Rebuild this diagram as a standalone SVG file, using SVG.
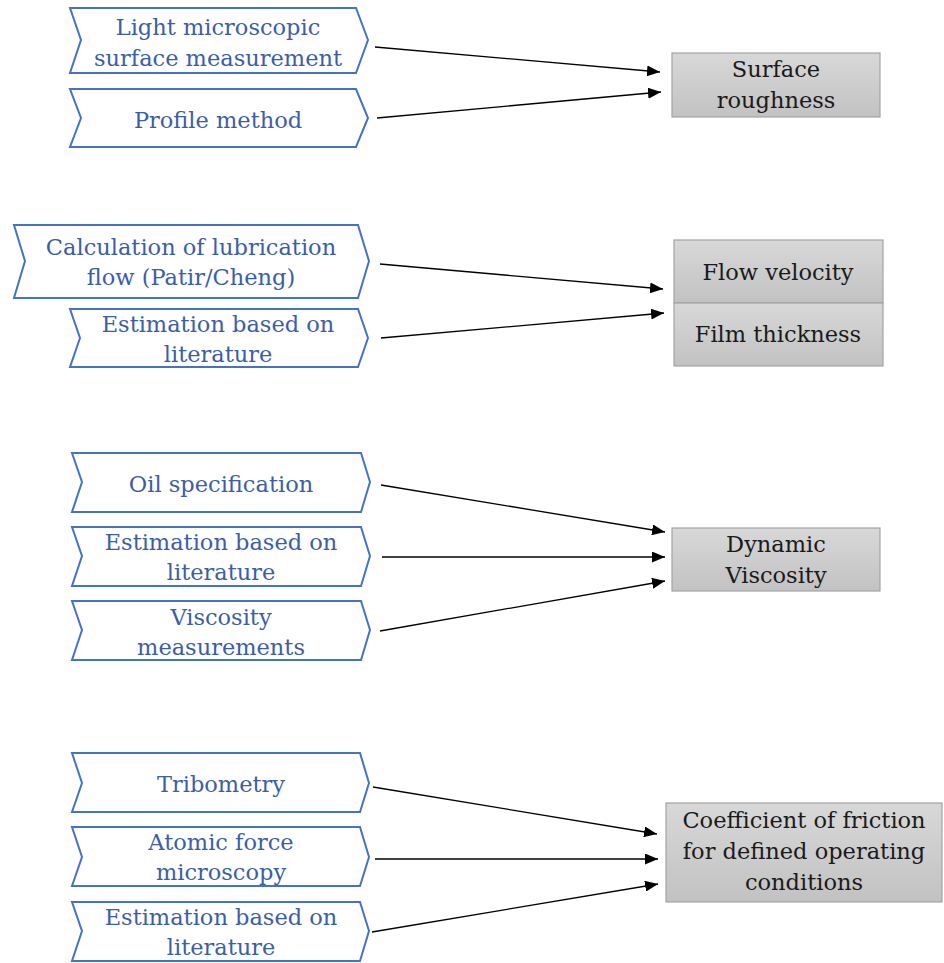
<svg xmlns="http://www.w3.org/2000/svg" width="944" height="963" viewBox="0 0 944 963">
  <defs>
    <linearGradient id="grayFill" x1="0" y1="0" x2="0" y2="1">
      <stop offset="0" stop-color="#d8d8d8"/>
      <stop offset="1" stop-color="#c2c2c2"/>
    </linearGradient>
    <marker id="arrowHead" viewBox="0 0 13 11" refX="13" refY="5.5" markerWidth="13" markerHeight="11" markerUnits="userSpaceOnUse" orient="auto">
      <path d="M0,0 L13,5.5 L0,11 Z" fill="#000"/>
    </marker>
    <style>
      .chev { fill: #fff; stroke: #4472c4; stroke-width: 2; stroke-linejoin: miter; }
      .box { fill: url(#grayFill); stroke: #a3a3a3; stroke-width: 1.2; }
      text { font-family: 'DejaVu Serif', 'Liberation Serif', serif; font-size: 22.5px; text-anchor: middle; }
      .src { fill: #3b5ea6; }
      .dst { fill: #1a1a1a; }
      .link { stroke: #000; stroke-width: 1.3; fill: none; marker-end: url(#arrowHead); }
    </style>
  </defs>

  <!-- Section 1: surface roughness -->
  <g id="light-microscopic">
    <path class="chev" d="M70,8 H356 L368,40 L356,73 H70 L81,40 Z"/>
    <text class="src" x="218" y="35">Light microscopic</text>
    <text class="src" x="218" y="66">surface measurement</text>
  </g>
  <g id="profile-method">
    <path class="chev" d="M70,89 H356 L368,118 L356,147 H70 L81,118 Z"/>
    <text class="src" x="218" y="128">Profile method</text>
  </g>
  <g id="surface-roughness">
    <rect class="box" x="672" y="53" width="208" height="64"/>
    <text class="dst" x="776" y="77">Surface</text>
    <text class="dst" x="776" y="108">roughness</text>
  </g>

  <!-- Section 2: flow velocity / film thickness -->
  <g id="lubrication-flow">
    <path class="chev" d="M14,225 H358 L369,261 L358,298 H14 L25,261 Z"/>
    <text class="src" x="191" y="255">Calculation of lubrication</text>
    <text class="src" x="191" y="285">flow (Patir/Cheng)</text>
  </g>
  <g id="estimation-flow">
    <path class="chev" d="M70,309 H358 L368,338 L358,367 H70 L80,338 Z"/>
    <text class="src" x="218" y="332">Estimation based on</text>
    <text class="src" x="218" y="362">literature</text>
  </g>
  <g id="flow-film">
    <rect class="box" x="674" y="240" width="209" height="63"/>
    <rect class="box" x="674" y="303" width="209" height="63"/>
    <text class="dst" x="778" y="280">Flow velocity</text>
    <text class="dst" x="778" y="342">Film thickness</text>
  </g>

  <!-- Section 3: dynamic viscosity -->
  <g id="oil-specification">
    <path class="chev" d="M72,453 H361 L370,482 L361,512 H72 L82,482 Z"/>
    <text class="src" x="221" y="492">Oil specification</text>
  </g>
  <g id="estimation-viscosity">
    <path class="chev" d="M72,527 H361 L370,556 L361,586 H72 L82,556 Z"/>
    <text class="src" x="221" y="550">Estimation based on</text>
    <text class="src" x="221" y="580">literature</text>
  </g>
  <g id="viscosity-measurements">
    <path class="chev" d="M72,601 H361 L370,630 L361,660 H72 L82,630 Z"/>
    <text class="src" x="221" y="625">Viscosity</text>
    <text class="src" x="221" y="655">measurements</text>
  </g>
  <g id="dynamic-viscosity">
    <rect class="box" x="672" y="528" width="208" height="63"/>
    <text class="dst" x="776" y="552">Dynamic</text>
    <text class="dst" x="776" y="583">Viscosity</text>
  </g>

  <!-- Section 4: coefficient of friction -->
  <g id="tribometry">
    <path class="chev" d="M72,753 H360 L369,783 L360,812 H72 L82,783 Z"/>
    <text class="src" x="221" y="792">Tribometry</text>
  </g>
  <g id="atomic-force">
    <path class="chev" d="M72,827 H360 L369,857 L360,886 H72 L82,857 Z"/>
    <text class="src" x="221" y="850">Atomic force</text>
    <text class="src" x="221" y="880">microscopy</text>
  </g>
  <g id="estimation-friction">
    <path class="chev" d="M72,902 H360 L369,931 L360,961 H72 L82,931 Z"/>
    <text class="src" x="221" y="925">Estimation based on</text>
    <text class="src" x="221" y="955">literature</text>
  </g>
  <g id="friction-coefficient">
    <rect class="box" x="666" y="803" width="276" height="99"/>
    <text class="dst" x="804" y="828">Coefficient of friction</text>
    <text class="dst" x="804" y="859">for defined operating</text>
    <text class="dst" x="804" y="890">conditions</text>
  </g>

  <!-- Connectors -->
  <g id="connectors">
    <line class="link" x1="375" y1="47" x2="660" y2="72"/>
    <line class="link" x1="377" y1="118" x2="661" y2="92"/>
    <line class="link" x1="380" y1="264" x2="663" y2="289"/>
    <line class="link" x1="381" y1="338" x2="664" y2="313"/>
    <line class="link" x1="381" y1="485" x2="665" y2="532"/>
    <line class="link" x1="382" y1="557" x2="665" y2="557"/>
    <line class="link" x1="380" y1="631" x2="665" y2="581"/>
    <line class="link" x1="373" y1="787" x2="657" y2="834"/>
    <line class="link" x1="375" y1="859" x2="658" y2="859"/>
    <line class="link" x1="372" y1="932" x2="658" y2="884"/>
  </g>
</svg>
